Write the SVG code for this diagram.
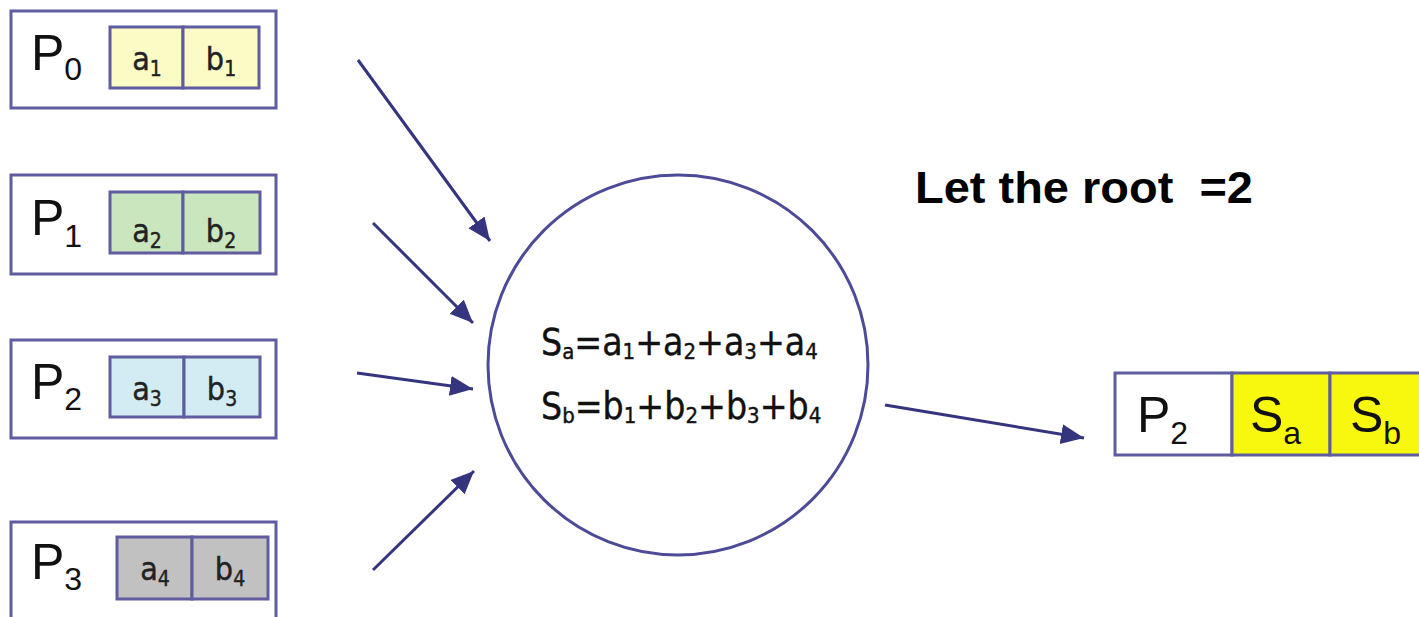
<svg xmlns="http://www.w3.org/2000/svg" width="1419" height="617" viewBox="0 0 1419 617">
<defs>
<marker id="ah" markerUnits="userSpaceOnUse" markerWidth="26" markerHeight="22" refX="23" refY="10" orient="auto">
<path d="M0,0 L23,10 L0,20 Z" fill="#35347f"/>
</marker>
<style>
.box{fill:#fff;stroke:#5f5d9f;stroke-width:3}
.cell{stroke:#5f5d9f;stroke-width:3}
.c0{fill:#fbfbc6}.c1{fill:#c9e6bf}.c2{fill:#d3ebf3}.c3{fill:#c1c1c1}.cy{fill:#f8f80e}
.pl{font-family:"Liberation Sans",Arial,sans-serif;font-size:50px;fill:#111}
.ps{font-size:32px}
.ct{font-family:"DejaVu Sans Condensed","DejaVu Sans",sans-serif;font-size:32px;fill:#222;stroke:#222;stroke-width:0.4}
.cs{font-size:21px}
.fm{font-family:"DejaVu Sans Condensed","DejaVu Sans",sans-serif;font-size:37px;fill:#111;stroke:#111;stroke-width:0.4}
.fs{font-size:22px}
.ttl{font-family:"Liberation Sans",Arial,sans-serif;font-weight:bold;font-size:44px;fill:#000}
.arr{stroke:#35347f;stroke-width:3;fill:none;marker-end:url(#ah)}
</style>
</defs>
<g id="P0">
<rect class="box" x="11" y="11" width="265" height="97"/>
<rect class="cell c0" x="110" y="27" width="73" height="61"/>
<rect class="cell c0" x="183" y="27" width="76" height="61"/>
<text class="pl" x="31" y="70">P<tspan class="ps" dy="10">0</tspan></text>
<text class="ct" x="147" y="70" text-anchor="middle">a<tspan class="cs" dy="6">1</tspan></text>
<text class="ct" x="221" y="70" text-anchor="middle">b<tspan class="cs" dy="6">1</tspan></text>
</g>
<g id="P1">
<rect class="box" x="11" y="175" width="265" height="99"/>
<rect class="cell c1" x="110" y="192" width="73" height="61"/>
<rect class="cell c1" x="183" y="192" width="77" height="61"/>
<text class="pl" x="31" y="235">P<tspan class="ps" dy="12">1</tspan></text>
<text class="ct" x="147" y="242" text-anchor="middle">a<tspan class="cs" dy="6">2</tspan></text>
<text class="ct" x="221" y="242" text-anchor="middle">b<tspan class="cs" dy="6">2</tspan></text>
</g>
<g id="P2">
<rect class="box" x="11" y="340" width="265" height="98"/>
<rect class="cell c2" x="110" y="357" width="74" height="60"/>
<rect class="cell c2" x="184" y="357" width="76" height="60"/>
<text class="pl" x="31" y="399">P<tspan class="ps" dy="11">2</tspan></text>
<text class="ct" x="147" y="400" text-anchor="middle">a<tspan class="cs" dy="6">3</tspan></text>
<text class="ct" x="222" y="400" text-anchor="middle">b<tspan class="cs" dy="6">3</tspan></text>
</g>
<g id="P3">
<rect class="box" x="11" y="522" width="265" height="110"/>
<rect class="cell c3" x="117" y="537" width="75" height="62"/>
<rect class="cell c3" x="192" y="537" width="76" height="62"/>
<text class="pl" x="31" y="579">P<tspan class="ps" dy="11">3</tspan></text>
<text class="ct" x="155" y="580" text-anchor="middle">a<tspan class="cs" dy="6">4</tspan></text>
<text class="ct" x="230" y="580" text-anchor="middle">b<tspan class="cs" dy="6">4</tspan></text>
</g>
<g id="reduce">
<circle cx="678" cy="365" r="190" fill="#fff" stroke="#4d4b97" stroke-width="3"/>
<text class="fm" x="541" y="355">S<tspan class="fs" dy="4">a</tspan><tspan dy="-4">=a</tspan><tspan class="fs" dy="4">1</tspan><tspan dy="-4">+a</tspan><tspan class="fs" dy="4">2</tspan><tspan dy="-4">+a</tspan><tspan class="fs" dy="4">3</tspan><tspan dy="-4">+a</tspan><tspan class="fs" dy="4">4</tspan></text>
<text class="fm" x="541" y="419">S<tspan class="fs" dy="4">b</tspan><tspan dy="-4">=b</tspan><tspan class="fs" dy="4">1</tspan><tspan dy="-4">+b</tspan><tspan class="fs" dy="4">2</tspan><tspan dy="-4">+b</tspan><tspan class="fs" dy="4">3</tspan><tspan dy="-4">+b</tspan><tspan class="fs" dy="4">4</tspan></text>
</g>
<g id="result">
<rect class="box" x="1115" y="373" width="117" height="82"/>
<rect class="cell cy" x="1232" y="373" width="98" height="82"/>
<rect class="cell cy" x="1330" y="373" width="100" height="82"/>
<text class="pl" x="1137" y="432">P<tspan class="ps" dy="12">2</tspan></text>
<text class="pl" x="1250" y="432">S<tspan class="ps" dy="12">a</tspan></text>
<text class="pl" x="1350" y="432">S<tspan class="ps" dy="12">b</tspan></text>
</g>
<g id="title">
<text class="ttl" x="915" y="203" xml:space="preserve" textLength="338" lengthAdjust="spacingAndGlyphs">Let the root  =2</text>
</g>
<g id="connectors">
<line class="arr" x1="358" y1="60" x2="490" y2="241"/>
<line class="arr" x1="373" y1="223" x2="473" y2="323"/>
<line class="arr" x1="357" y1="373" x2="473" y2="389"/>
<line class="arr" x1="373" y1="570" x2="474" y2="471"/>
<line class="arr" x1="885" y1="405" x2="1084" y2="438"/>
</g>
</svg>
